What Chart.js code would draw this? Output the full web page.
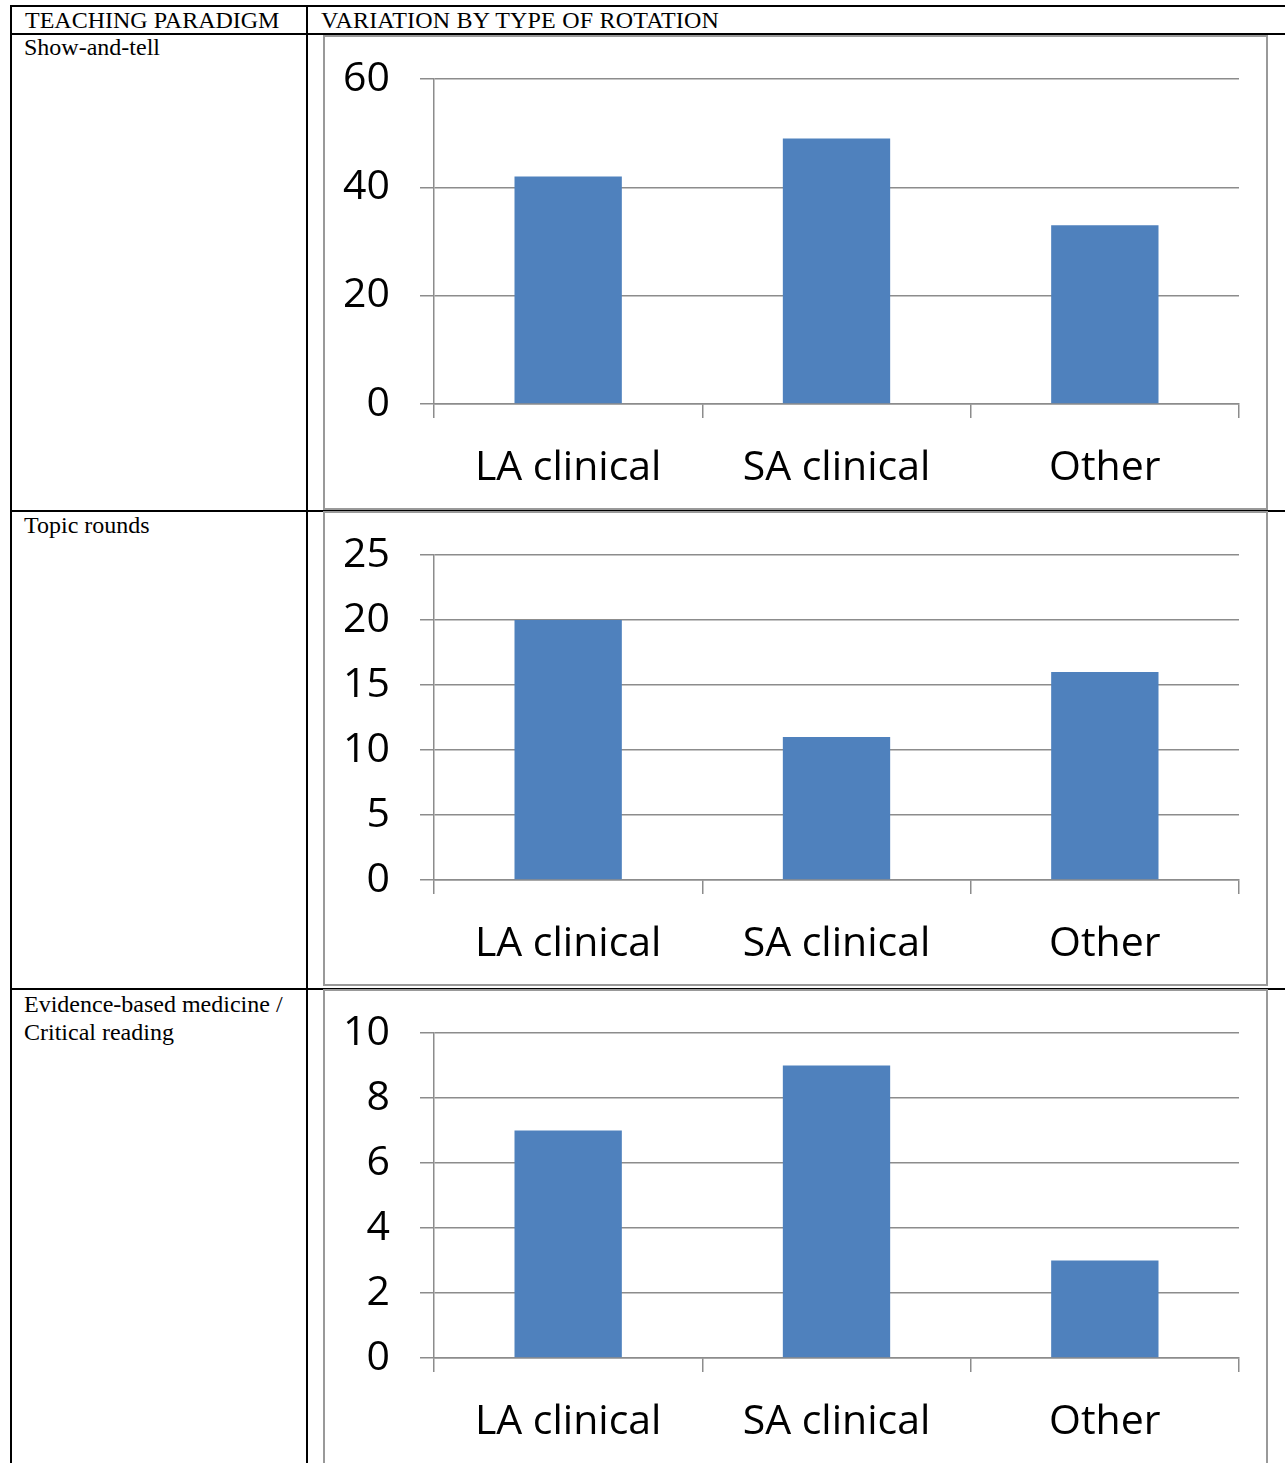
<!DOCTYPE html>
<html>
<head>
<meta charset="utf-8">
<script src="https://cdn.jsdelivr.net/npm/chart.js@4.4.0/dist/chart.umd.min.js"></script>
<style>
  body { margin: 0; background: #fff; }
  #page { position: relative; width: 1285px; height: 1463px; overflow: hidden; font-family: "Liberation Serif", "Times New Roman", serif; font-size: 24px; color: #000; }
  .hline, .vline { position: absolute; background: #000; }
  .cell { position: absolute; line-height: 28px; white-space: nowrap; }
  .box { position: absolute; left: 323px; width: 941px; background: #fff; border: 2px solid #999; }
  .box canvas { position: absolute; left: -2px; top: -2px; }
</style>
</head>
<body>
<div id="page">
  <!-- table rules -->
  <div class="hline" style="left:10px; top:5px; width:1275px; height:2px;"></div>
  <div class="hline" style="left:10px; top:33px; width:1275px; height:2px;"></div>
  <div class="hline" style="left:10px; top:510px; width:1275px; height:2px;"></div>
  <div class="hline" style="left:10px; top:988px; width:1275px; height:2px;"></div>
  <div class="vline" style="left:10px; top:5px; width:2px; height:1458px;"></div>
  <div class="vline" style="left:306px; top:5px; width:2px; height:1458px;"></div>

  <div class="cell" style="left:25px; top:6px;">TEACHING PARADIGM</div>
  <div class="cell" style="left:321px; top:6px; letter-spacing:0.2px;">VARIATION BY TYPE OF ROTATION</div>
  <div id="label0" class="cell" style="left:24px; top:33px;"></div>
  <div id="label1" class="cell" style="left:24px; top:511px;"></div>
  <div id="label2" class="cell" style="left:24px; top:990px; width:270px; white-space:normal;"></div>

  <div class="box" style="top:35px; height:471px;"><canvas id="chart0" width="945" height="475"></canvas></div>
  <div class="box" style="top:511px; height:471px;"><canvas id="chart1" width="945" height="475"></canvas></div>
  <div class="box" style="top:989px; height:480px;"><canvas id="chart2" width="945" height="475"></canvas></div>
</div>

<script>
// rotation types on the x axis
var categories = ['LA clinical', 'SA clinical', 'Other'];

// teaching paradigm names, one per table row
var paradigms = ['Show-and-tell', 'Topic rounds', 'Evidence-based medicine / Critical reading'];

// counts per rotation type
var showAndTell = [42, 49, 33];
var topicRounds = [20, 11, 16];
var evidenceBased = [7, 9, 3];

// y axis max and step for each chart
var yMax = [60, 25, 10];
var yStep = [20, 5, 2];

var seriesList = [showAndTell, topicRounds, evidenceBased];

var axisGray = '#8c8c8c';
var tickFont = { family: '"Open Sans", sans-serif', size: 41 };

function createParadigmChart(index) {
  var ctx = document.getElementById('chart' + index).getContext('2d');
  return new Chart(ctx, {
    type: 'bar',
    data: {
      labels: categories,
      datasets: [{
        label: paradigms[index],
        data: seriesList[index],
        backgroundColor: '#4f81bd',
        borderWidth: 0,
        barPercentage: 0.4,
        categoryPercentage: 1
      }]
    },
    options: {
      responsive: false,
      animation: false,
      layout: {
        autoPadding: false,
        padding: { top: 44, right: 29, left: 0, bottom: 0 }
      },
      plugins: {
        legend: { display: false },
        tooltip: { enabled: false }
      },
      scales: {
        x: {
          offset: true,
          grid: {
            offset: true,
            drawOnChartArea: false,
            drawTicks: true,
            tickLength: 14,
            color: axisGray,
            lineWidth: 1.5
          },
          border: { color: axisGray, width: 1.5 },
          ticks: { color: '#000', font: tickFont, padding: 26, maxRotation: 0 },
          afterFit: function (scale) { scale.height = 106; }
        },
        y: {
          min: 0,
          max: yMax[index],
          grid: {
            color: axisGray,
            lineWidth: 1.5,
            tickLength: 14
          },
          border: { color: axisGray, width: 1.5 },
          ticks: { color: '#000', font: tickFont, stepSize: yStep[index], padding: 30 },
          afterFit: function (scale) {
            // fixed axis width, and no extra room for the end labels
            scale.width = 111;
            scale.paddingTop = 0;
            scale.paddingBottom = 0;
          }
        }
      }
    }
  });
}

// row labels in the left column
document.getElementById('label0').textContent = paradigms[0];
document.getElementById('label1').textContent = paradigms[1];
document.getElementById('label2').textContent = paradigms[2];

for (var i = 0; i < seriesList.length; i++) {
  createParadigmChart(i);
}
</script>
</body>
</html>
